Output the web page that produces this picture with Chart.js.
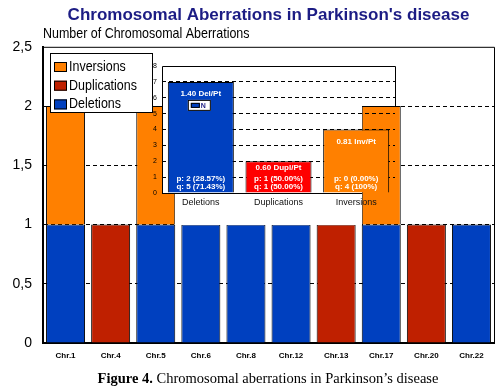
<!DOCTYPE html>
<html>
<head>
<meta charset="utf-8">
<script src="https://cdn.jsdelivr.net/npm/chart.js@4.4.1/dist/chart.umd.min.js"></script>
<style>
  body { margin: 0; background: #fff; }
  #wrap { position: relative; width: 502px; height: 389px; }
  #main { position: absolute; left: 0; top: 0; }
  #inset { position: absolute; left: 136px; top: 56px; }
</style>
</head>
<body>
<div id="wrap">
  <canvas id="main" width="502" height="389"></canvas>
  <canvas id="inset" width="266" height="172"></canvas>
</div>
<script>
// main chart data
var categories = ['Chr.1', 'Chr.4', 'Chr.5', 'Chr.6', 'Chr.8', 'Chr.12', 'Chr.13', 'Chr.17', 'Chr.20', 'Chr.22'];
var deletions = [1, 0, 1, 1, 1, 1, 0, 1, 0, 1];
var duplications = [0, 1, 0, 0, 0, 0, 1, 0, 1, 0];
var inversions = [1, 0, 1, 0, 0, 0, 0, 1, 0, 0];

// inset chart data
var insetCategories = ['Deletions', 'Duplications', 'Inversions'];
var insetCounts = [7, 2, 4];
var insetRates = ['1.40 Del/Pt', '0.60 Dupl/Pt', '0.81 Inv/Pt'];
var insetP = ['p: 2 (28.57%)', 'p: 1 (50.00%)', 'p: 0 (0.00%)'];
var insetQ = ['q: 5 (71.43%)', 'q: 1 (50.00%)', 'q: 4 (100%)'];

var yAxisTitle = 'Number of Chromosomal Aberrations';

var BLUE = '#0040bf', RED = '#bf2000', ORANGE = '#ff8000';
var SANS = "'Liberation Sans', Arial, sans-serif";
Chart.defaults.font.family = SANS;
Chart.defaults.color = '#000';

// arial narrow is not around, so squeeze regular text sideways
function narrowText(c, text, x, y, size) {
    c.save();
    c.font = size + 'px ' + SANS;
    c.translate(x, y);
    c.scale(0.86, 1);
    c.fillText(text, 0, 0);
    c.restore();
}

var mainExtras = {
    id: 'mainExtras',
    afterDatasetsDraw: function(chart) {
        var c = chart.ctx, a = chart.chartArea;
        c.save();
        c.strokeStyle = '#000';
        c.lineWidth = 1;
        c.beginPath();
        c.moveTo(a.left, a.top + 0.5);
        c.lineTo(a.right + 0.5, a.top + 0.5);
        c.lineTo(a.right + 0.5, a.bottom);
        c.stroke();
        c.restore();
    },
    afterDraw: function(chart) {
        var c = chart.ctx, a = chart.chartArea;
        c.save();
        c.fillStyle = '#000';
        c.textBaseline = 'middle';
        narrowText(c, yAxisTitle, a.left, 34, 14.5);
        // legend box
        var lx = 50, ly = 53, lw = 102, lh = 59;
        c.fillStyle = '#fff';
        c.fillRect(lx, ly, lw, lh);
        c.strokeStyle = '#000';
        c.lineWidth = 1;
        c.strokeRect(lx + 0.5, ly + 0.5, lw, lh);
        var ds = chart.data.datasets.slice().reverse();
        ds.forEach(function(d, i) {
            var y = ly + 14 + i * 18.7;
            c.fillStyle = d.backgroundColor;
            c.fillRect(lx + 4, y - 5, 13, 10);
            c.strokeRect(lx + 4.5, y - 4.5, 12, 9);
            c.fillStyle = '#000';
            narrowText(c, d.label, lx + 19, y, 14.5);
        });
        // caption
        var b = 'Figure 4.', r = ' Chromosomal aberrations in Parkinson\u2019s disease';
        c.font = 'bold 14.5px "Liberation Serif", serif';
        var wb = c.measureText(b).width;
        c.font = '14.5px "Liberation Serif", serif';
        var wr = c.measureText(r).width;
        var x0 = 268 - (wb + wr) / 2;
        c.fillStyle = '#000';
        c.textBaseline = 'alphabetic';
        c.font = 'bold 14.5px "Liberation Serif", serif';
        c.fillText(b, x0, 383);
        c.font = '14.5px "Liberation Serif", serif';
        c.fillText(r, x0 + wb, 383);
        c.restore();
    }
};

var mainChart = new Chart(document.getElementById('main').getContext('2d'), {
    type: 'bar',
    data: {
        labels: categories,
        datasets: [
            { label: 'Deletions', data: deletions, backgroundColor: BLUE },
            { label: 'Duplications', data: duplications, backgroundColor: RED },
            { label: 'Inversions', data: inversions, backgroundColor: ORANGE }
        ]
    },
    options: {
        responsive: false,
        animation: false,
        layout: { padding: { left: 0, right: 8, top: 0, bottom: 0 } },
        datasets: {
            bar: { borderColor: '#000', borderWidth: 1, barPercentage: 0.865, categoryPercentage: 1 }
        },
        plugins: {
            legend: { display: false },
            tooltip: { enabled: false },
            title: {
                display: true,
                text: "Chromosomal Aberrations in Parkinson's disease",
                fullSize: false,
                color: '#1c1c84',
                font: { size: 17, weight: 'bold' },
                padding: { top: 5, bottom: 21.4 }
            }
        },
        scales: {
            x: {
                stacked: true,
                grid: { display: false, drawTicks: false },
                border: { color: '#000', width: 2 },
                ticks: { font: { size: 8, weight: 'bold' }, padding: 8, maxRotation: 0 },
                afterFit: function(s) { s.height = 46; }
            },
            y: {
                stacked: true,
                min: 0,
                max: 2.5,
                grid: {
                    drawTicks: false,
                    color: function(ctx) {
                        var v = ctx.tick ? ctx.tick.value : 0;
                        return (v > 0 && v < 2.5) ? '#000' : 'rgba(0,0,0,0)';
                    }
                },
                border: { color: '#000', width: 2, dash: [4, 3] },
                ticks: {
                    stepSize: 0.5,
                    padding: 11,
                    font: { size: 14 },
                    callback: function(v) { return String(v).replace('.', ','); }
                },
                afterFit: function(s) { s.width = 43; }
            }
        }
    },
    plugins: [mainExtras]
});

// inset: white backing, frame, in-bar labels
var CUT = 226;
var insetExtras = {
    id: 'insetExtras',
    beforeDraw: function(chart) {
        var c = chart.ctx, a = chart.chartArea;
        c.save();
        c.fillStyle = '#fff';
        c.fillRect(a.left, a.top, CUT - a.left, a.bottom - a.top);
        c.fillRect(39, a.bottom, CUT - 39, 169 - a.bottom);
        c.restore();
    },
    afterDatasetsDraw: function(chart) {
        var c = chart.ctx, a = chart.chartArea;
        var bars = chart.getDatasetMeta(0).data;
        c.save();
        c.textAlign = 'center';
        c.textBaseline = 'middle';
        c.font = 'bold 8px ' + SANS;
        bars.forEach(function(bar, i) {
            var off = Math.min(12, (bar.base - bar.y) / 4.5);
            c.fillStyle = '#fff';
            c.fillText(insetRates[i], bar.x, bar.y + off);
            c.fillText(insetP[i], bar.x, bar.base - 14);
            c.fillText(insetQ[i], bar.x, bar.base - 6);
        });
        // legend "N" inside the first bar
        var b0 = bars[0];
        var bx = b0.x - 13, by = b0.y + 18;
        c.fillStyle = '#fff';
        c.fillRect(bx, by, 23, 11);
        c.strokeStyle = '#000';
        c.lineWidth = 1;
        c.strokeRect(bx + 0.5, by + 0.5, 22, 10);
        c.fillStyle = BLUE;
        c.fillRect(bx + 3, by + 3, 9, 5);
        c.strokeRect(bx + 3.5, by + 3.5, 8, 4);
        c.fillStyle = '#1c1c84';
        c.textAlign = 'left';
        c.font = 'bold 7px ' + SANS;
        c.fillText(chart.data.datasets[0].label, bx + 13, by + 6);
        // frame
        c.strokeStyle = '#000';
        c.beginPath();
        c.moveTo(a.left + 0.5, a.bottom);
        c.lineTo(a.left + 0.5, a.top + 0.5);
        c.lineTo(a.right + 0.5, a.top + 0.5);
        c.lineTo(a.right + 0.5, 50);
        c.moveTo(a.left, a.bottom + 0.5);
        c.lineTo(CUT, a.bottom + 0.5);
        c.stroke();
        c.restore();
    }
};

var insetChart = new Chart(document.getElementById('inset').getContext('2d'), {
    type: 'bar',
    data: {
        labels: insetCategories,
        datasets: [{
            label: 'N',
            data: insetCounts,
            backgroundColor: [BLUE, '#ff0000', ORANGE],
            borderColor: '#000',
            borderWidth: 1,
            barPercentage: 0.85,
            categoryPercentage: 1
        }]
    },
    options: {
        responsive: false,
        animation: false,
        layout: { padding: { left: 0, right: 7, top: 10, bottom: 0 } },
        plugins: { legend: { display: false }, tooltip: { enabled: false } },
        scales: {
            x: {
                grid: { display: false, drawTicks: false },
                border: { display: false },
                ticks: { font: { size: 9 }, color: '#111', padding: 4, maxRotation: 0 },
                afterFit: function(s) { s.height = 35; }
            },
            y: {
                min: 0,
                max: 8,
                grid: {
                    drawTicks: false,
                    color: function(ctx) {
                        var v = ctx.tick ? ctx.tick.value : 0;
                        return (v > 0 && v < 8) ? '#000' : 'rgba(0,0,0,0)';
                    }
                },
                border: { display: false, dash: [4, 3] },
                ticks: { stepSize: 1, padding: 5, font: { size: 7 } },
                afterFit: function(s) { s.width = 26; }
            }
        }
    },
    plugins: [insetExtras]
});
</script>
</body>
</html>
